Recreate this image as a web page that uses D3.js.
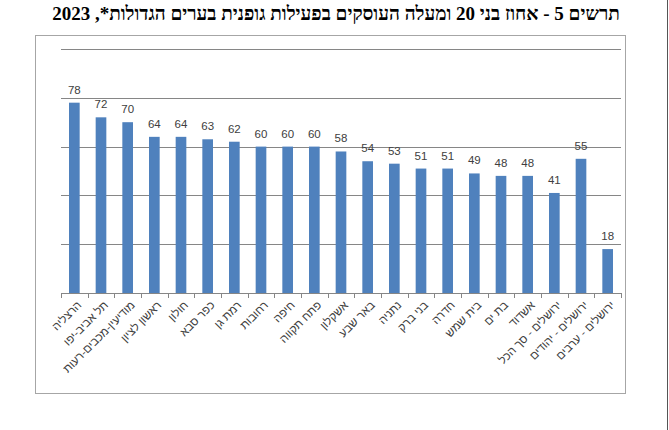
<!DOCTYPE html>
<html>
<head>
<meta charset="utf-8">
<script src="https://cdn.jsdelivr.net/npm/d3@7"></script>
<style>
  body { margin: 0; background: #fff; }
  svg { display: block; }
</style>
</head>
<body>
<div id="chart"></div>
<script>
var cities = ["הרצליה", "תל אביב-יפו", "מודיעין-מכבים-רעות", "ראשון לציון", "חולון",
    "כפר סבא", "רמת גן", "רחובות", "חיפה", "פתח תקווה", "אשקלון", "באר שבע",
    "נתניה", "בני ברק", "חדרה", "בית שמש", "בת ים", "אשדוד",
    "ירושלים - סך הכל", "ירושלים - יהודים", "ירושלים - ערבים"];
var values = [78, 72, 70, 64, 64, 63, 62, 60, 60, 60, 58, 54, 53, 51, 51, 49, 48, 48, 41, 55, 18];
var yTicks = [0, 20, 40, 60, 80, 100];

var w = 669,
    h = 430;

var svg = d3.select("#chart").append("svg")
    .attr("width", w)
    .attr("height", h);

// title
svg.append("text")
    .attr("x", 336)
    .attr("y", 20)
    .attr("text-anchor", "middle")
    .attr("direction", "rtl")
    .style("font-family", "'Liberation Serif', 'Times New Roman', serif")
    .style("font-size", "19px")
    .style("font-weight", "bold")
    .attr("fill", "#000")
    .text("תרשים 5 - אחוז בני 20 ומעלה העוסקים בפעילות גופנית בערים הגדולות*, 2023");

// chart frame
svg.append("rect")
    .attr("x", 35.5)
    .attr("y", 35.5)
    .attr("width", 590)
    .attr("height", 358)
    .attr("fill", "none")
    .attr("stroke", "#a6a6a6");

// page edge line on the right
svg.append("line")
    .attr("x1", 667.5).attr("x2", 667.5)
    .attr("y1", 0).attr("y2", h)
    .attr("stroke", "#555");

var x = d3.scaleBand()
    .domain(cities)
    .range([61, 621])
    .paddingInner(0.6)
    .paddingOuter(0.3);

var y = d3.scaleLinear()
    .domain([0, 100])
    .range([293, 49]);

// gridlines
svg.append("g")
    .selectAll("line")
    .data(yTicks.slice(1))
    .enter().append("line")
    .attr("x1", 61)
    .attr("x2", 621)
    .attr("y1", function(d) { return Math.round(y(d)) + 0.5; })
    .attr("y2", function(d) { return Math.round(y(d)) + 0.5; })
    .attr("stroke", "#868686")
    .attr("stroke-width", 1);

// bars
svg.append("g")
    .selectAll("rect")
    .data(values)
    .enter().append("rect")
    .attr("x", function(d, i) { return x(cities[i]); })
    .attr("y", function(d) { return y(d); })
    .attr("width", x.bandwidth())
    .attr("height", function(d) { return y(0) - y(d); })
    .attr("fill", "#4f81bd");

// value labels
svg.append("g")
    .selectAll("text")
    .data(values)
    .enter().append("text")
    .attr("x", function(d, i) { return x(cities[i]) + x.bandwidth() / 2; })
    .attr("y", function(d) { return y(d) - 9; })
    .attr("text-anchor", "middle")
    .style("font-family", "'Liberation Sans', Arial, sans-serif")
    .style("font-size", "11.5px")
    .attr("fill", "#404040")
    .text(function(d) { return d; });

// x axis line and ticks
var step = (621 - 61) / cities.length;
var axis = svg.append("g");
axis.append("line")
    .attr("x1", 61).attr("x2", 621)
    .attr("y1", 293.5).attr("y2", 293.5)
    .attr("stroke", "#868686");
axis.selectAll(".tick")
    .data(d3.range(cities.length + 1))
    .enter().append("line")
    .attr("x1", function(i) { return Math.round(61 + i * step) + 0.5; })
    .attr("x2", function(i) { return Math.round(61 + i * step) + 0.5; })
    .attr("y1", 293)
    .attr("y2", 298)
    .attr("stroke", "#868686");

// category labels, rotated
svg.append("g")
    .selectAll("text")
    .data(cities)
    .enter().append("text")
    .attr("transform", function(d) {
        return "translate(" + (x(d) + x.bandwidth() / 2 + 5) + ",303) rotate(-45)";
    })
    .attr("text-anchor", "end")
    .attr("dy", "0.35em")
    .style("font-family", "'Liberation Sans', Arial, sans-serif")
    .style("font-size", "11.5px")
    .attr("fill", "#404040")
    .text(function(d) { return d; });
</script>
</body>
</html>
